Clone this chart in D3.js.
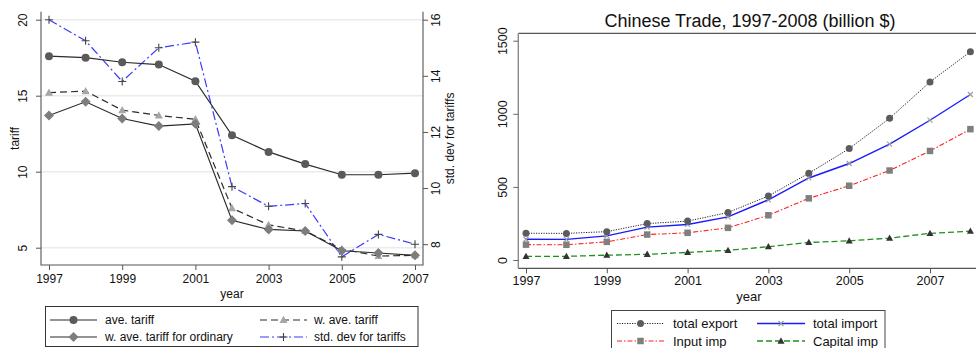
<!DOCTYPE html>
<html>
<head>
<meta charset="utf-8">
<script src="https://cdn.jsdelivr.net/npm/d3@7"></script>
<style>
  html, body { margin: 0; padding: 0; background: #fff; }
  svg { display: block; font-family: "Liberation Sans", Arial, Helvetica, sans-serif; }
</style>
</head>
<body>
<svg id="chart" width="976" height="348"></svg>
<script>
// ---- Tariff panel data ----
const tariffYears = [1997, 1998, 1999, 2000, 2001, 2002, 2003, 2004, 2005, 2006, 2007];
const aveTariff = [17.6, 17.5, 17.2, 17.05, 15.95, 12.4, 11.3, 10.5, 9.8, 9.8, 9.9];
const wAveTariff = [15.2, 15.3, 14.05, 13.7, 13.45, 7.6, 6.5, 6.1, 4.9, 4.45, 4.5];
const wAveOrdinary = [13.7, 14.6, 13.5, 13.0, 13.15, 6.8, 6.2, 6.1, 4.8, 4.65, 4.5];
const stdDevTariffs = [16.0, 15.25, 13.8, 15.0, 15.2, 10.05, 9.35, 9.45, 7.55, 8.35, 8.0];
const tariffXTicks = [1997, 1999, 2001, 2003, 2005, 2007];
const tariffYTicks = [5, 10, 15, 20];
const stdYTicks = [8, 10, 12, 14, 16];

// ---- Trade panel data (billion $) ----
const tradeYears = [1997, 1998, 1999, 2000, 2001, 2002, 2003, 2004, 2005, 2006, 2007, 2008];
const totalExport = [183, 182, 194, 249, 266, 325, 438, 593, 762, 969, 1218, 1425];
const totalImport = [142, 141, 165, 225, 243, 295, 412, 561, 660, 792, 956, 1132];
const inputImp = [105, 104, 124, 174, 186, 220, 306, 422, 508, 612, 746, 895];
const capitalImp = [25, 25, 33, 39, 52, 66, 91, 120, 131, 150, 182, 197];
const tradeXTicks = [1997, 1999, 2001, 2003, 2005, 2007];
const tradeYTicks = [0, 500, 1000, 1500];

const svg = d3.select("#chart");

// Marker shapes centred on the origin
function markerPath(kind, s) {
  const h = s / 2;
  switch (kind) {
    case "circle": return d3.symbol(d3.symbolCircle, Math.PI * h * h)();
    case "square": return `M${-h},${-h}H${h}V${h}H${-h}Z`;
    case "diamond": return `M0,${-h}L${h},0L0,${h}L${-h},0Z`;
    case "triangle": return `M0,${-h * 1.05}L${h},${h * 0.75}L${-h},${h * 0.75}Z`;
    case "plus": return `M${-h},0H${h}M0,${-h}V${h}`;
    case "cross": return `M${-h},${-h}L${h},${h}M${-h},${h}L${h},${-h}`;
  }
}

function drawSeries(g, xs, ys, x, y, st) {
  const pts = xs.map((d, i) => [x(d), y(ys[i])]);
  g.append("path")
    .attr("d", d3.line()(pts))
    .attr("fill", "none")
    .attr("stroke", st.line)
    .attr("stroke-width", st.width)
    .attr("stroke-dasharray", st.dash || null);
  const stroked = st.marker === "plus" || st.marker === "cross";
  g.selectAll(null).data(pts).join("path")
    .attr("transform", p => `translate(${p[0]},${p[1]})`)
    .attr("d", markerPath(st.marker, st.size))
    .attr("fill", stroked ? "none" : st.fill)
    .attr("stroke", stroked ? st.fill : (st.edge || "none"))
    .attr("stroke-width", stroked ? 1.1 : 0.6);
}

function legendItem(g, x0, x1, ty, tx, label, st) {
  g.append("line")
    .attr("x1", x0).attr("x2", x1).attr("y1", ty).attr("y2", ty)
    .attr("stroke", st.line).attr("stroke-width", st.width)
    .attr("stroke-dasharray", st.dash || null);
  const stroked = st.marker === "plus" || st.marker === "cross";
  g.append("path")
    .attr("transform", `translate(${(x0 + x1) / 2},${ty})`)
    .attr("d", markerPath(st.marker, st.size))
    .attr("fill", stroked ? "none" : st.fill)
    .attr("stroke", stroked ? st.fill : (st.edge || "none"))
    .attr("stroke-width", stroked ? 1.1 : 0.6);
  g.append("text")
    .attr("x", tx).attr("y", ty).attr("dy", "0.35em")
    .attr("font-size", st.fontSize).attr("fill", "#111")
    .text(label);
}

// =================== Left panel: tariffs ===================
{
  const L = 41, R = 423, T = 11.7, B = 265;
  const x = d3.scaleLinear().domain([1997, 2007]).range([49, 415]);
  const y = d3.scaleLinear().domain([5, 20]).range([247.7, 19.7]);
  const y2 = d3.scaleLinear().domain([8, 16]).range([244.2, 19.7]);
  const g = svg.append("g");
  const axisColor = "#555";

  // horizontal grid
  g.selectAll(null).data(tariffYTicks).join("line")
    .attr("x1", L).attr("x2", R)
    .attr("y1", d => y(d)).attr("y2", d => y(d))
    .attr("stroke", "#ebebeb").attr("stroke-width", 1.6);

  // left axis
  const ax = g.append("g").attr("transform", `translate(${L},0)`)
    .call(d3.axisLeft(y).tickValues(tariffYTicks).tickSize(5).tickPadding(4));
  ax.select(".domain").remove();
  ax.selectAll(".tick line").attr("stroke", axisColor);
  ax.selectAll(".tick text")
    .attr("transform", "rotate(-90)").attr("x", 0).attr("y", -14)
    .attr("dy", 0).attr("text-anchor", "middle")
    .attr("font-size", 12).attr("font-family", null).attr("fill", "#111");

  // right axis
  const ar = g.append("g").attr("transform", `translate(${R},0)`)
    .call(d3.axisRight(y2).tickValues(stdYTicks).tickSize(5).tickPadding(4));
  ar.select(".domain").remove();
  ar.selectAll(".tick line").attr("stroke", axisColor);
  ar.selectAll(".tick text")
    .attr("transform", "rotate(-90)").attr("x", 0).attr("y", 17)
    .attr("dy", 0).attr("text-anchor", "middle")
    .attr("font-size", 12).attr("font-family", null).attr("fill", "#111");

  // bottom axis
  const axb = g.append("g").attr("transform", `translate(0,${B})`)
    .call(d3.axisBottom(x).tickValues(tariffXTicks).tickFormat(d3.format("d")).tickSize(5).tickPadding(4));
  axb.select(".domain").remove();
  axb.selectAll(".tick line").attr("stroke", axisColor);
  axb.selectAll(".tick text").attr("font-size", 12).attr("font-family", null).attr("fill", "#111");

  // axis lines
  g.append("path")
    .attr("d", `M${L},${T}V${B}H${R}V${T}`)
    .attr("fill", "none").attr("stroke", axisColor).attr("stroke-width", 1.1);

  g.append("text").attr("x", (L + R) / 2).attr("y", 298)
    .attr("text-anchor", "middle").attr("font-size", 12).attr("fill", "#111").text("year");
  g.append("text").attr("transform", `translate(19,${(T + B) / 2}) rotate(-90)`)
    .attr("text-anchor", "middle").attr("font-size", 12).attr("fill", "#111").text("tariff");
  g.append("text").attr("transform", `translate(454,${(T + B) / 2}) rotate(-90)`)
    .attr("text-anchor", "middle").attr("font-size", 12).attr("fill", "#111").text("std. dev for tariffs");

  const stAve = { line: "#2b2b2b", width: 1.2, marker: "circle", size: 8, fill: "#5a5a5a", fontSize: 12 };
  const stOrd = { line: "#2b2b2b", width: 1.2, marker: "diamond", size: 10, fill: "#7d7d7d", fontSize: 12 };
  const stW = { line: "#2b2b2b", width: 1.2, dash: "7,4", marker: "triangle", size: 8, fill: "#a6a6a6", fontSize: 12 };
  const stSd = { line: "#3a3aff", width: 1.2, dash: "9,3,2,3", marker: "plus", size: 8, fill: "#444", fontSize: 12 };

  drawSeries(g, tariffYears, stdDevTariffs, x, y2, stSd);
  drawSeries(g, tariffYears, aveTariff, x, y, stAve);
  drawSeries(g, tariffYears, wAveTariff, x, y, stW);
  drawSeries(g, tariffYears, wAveOrdinary, x, y, stOrd);

  // legend
  const lg = g.append("g");
  lg.append("rect").attr("x", 45.5).attr("y", 306.5).attr("width", 372.5).attr("height", 40)
    .attr("fill", "#fff").attr("stroke", "#333").attr("stroke-width", 1);
  legendItem(lg, 50, 97, 320, 105, "ave. tariff", stAve);
  legendItem(lg, 50, 97, 337, 105, "w. ave. tariff for ordinary", stOrd);
  legendItem(lg, 260, 307, 320, 314, "w. ave. tariff", stW);
  legendItem(lg, 260, 307, 337, 314, "std. dev for tariffs", stSd);
}

// =================== Right panel: Chinese trade ===================
{
  const L = 518.3, R = 980, T = 33.3, B = 268.3;
  const x = d3.scaleLinear().domain([1997, 2007]).range([526, 930]);
  const y = d3.scaleLinear().domain([0, 1500]).range([260, 40.7]);
  const g = svg.append("g");

  g.append("text").attr("x", 750).attr("y", 27)
    .attr("text-anchor", "middle").attr("font-size", 18).attr("fill", "#111")
    .text("Chinese Trade, 1997-2008 (billion $)");

  g.append("line").attr("x1", L).attr("x2", R).attr("y1", T).attr("y2", T)
    .attr("stroke", "#555").attr("stroke-width", 1.2);
  g.append("line").attr("x1", L).attr("x2", L).attr("y1", T).attr("y2", B)
    .attr("stroke", "#8a8a8a").attr("stroke-width", 1.4);
  g.append("line").attr("x1", L).attr("x2", R).attr("y1", B).attr("y2", B)
    .attr("stroke", "#555").attr("stroke-width", 1.2);

  const ay = g.append("g").attr("transform", `translate(${L},0)`)
    .call(d3.axisLeft(y).tickValues(tradeYTicks).tickFormat(d3.format("d")).tickSize(5).tickPadding(4));
  ay.select(".domain").remove();
  ay.selectAll(".tick line").attr("stroke", "#666");
  ay.selectAll(".tick text")
    .attr("transform", "rotate(-90)").attr("x", 0).attr("y", -11)
    .attr("dy", 0).attr("text-anchor", "middle")
    .attr("font-size", 12.5).attr("font-family", null).attr("fill", "#111");

  const axb = g.append("g").attr("transform", `translate(0,${B})`)
    .call(d3.axisBottom(x).tickValues(tradeXTicks).tickFormat(d3.format("d")).tickSize(5).tickPadding(3));
  axb.select(".domain").remove();
  axb.selectAll(".tick line").attr("stroke", "#555");
  axb.selectAll(".tick text").attr("font-size", 12.5).attr("font-family", null).attr("fill", "#111");

  g.append("text").attr("x", 749).attr("y", 301)
    .attr("text-anchor", "middle").attr("font-size", 13).attr("fill", "#111").text("year");

  const stExp = { line: "#222", width: 1, dash: "1.2,1.3", marker: "circle", size: 7, fill: "#5c5c5c", fontSize: 13 };
  const stImp = { line: "#1a1aff", width: 1.4, marker: "cross", size: 5, fill: "#9a9a9a", fontSize: 13 };
  const stIn = { line: "#ff2020", width: 1.1, dash: "5,2,1.5,2", marker: "square", size: 6.5, fill: "#7f7f7f", fontSize: 13 };
  const stCap = { line: "#1f8f1f", width: 1.3, dash: "6,3", marker: "triangle", size: 7, fill: "#333", fontSize: 13 };

  drawSeries(g, tradeYears, capitalImp, x, y, stCap);
  drawSeries(g, tradeYears, inputImp, x, y, stIn);
  drawSeries(g, tradeYears, totalImport, x, y, stImp);
  drawSeries(g, tradeYears, totalExport, x, y, stExp);

  const lg = g.append("g");
  lg.append("rect").attr("x", 611.5).attr("y", 310.5).attr("width", 273.5).attr("height", 50)
    .attr("fill", "#fff").attr("stroke", "#444").attr("stroke-width", 1);
  legendItem(lg, 617, 664, 323.5, 673, "total export", stExp);
  legendItem(lg, 617, 664, 341, 673, "Input imp", stIn);
  legendItem(lg, 757, 805, 323.5, 813, "total import", stImp);
  legendItem(lg, 757, 805, 341, 813, "Capital imp", stCap);
}
</script>
</body>
</html>
